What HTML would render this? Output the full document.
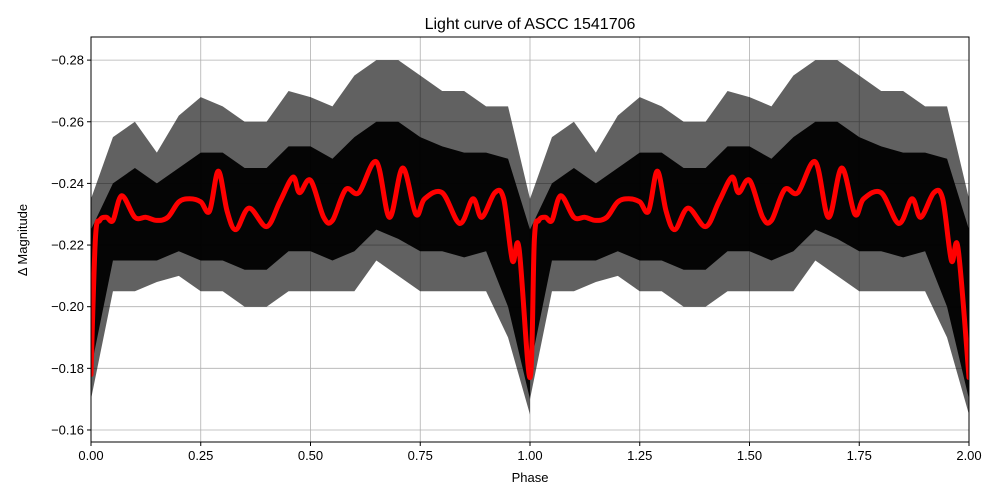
<!DOCTYPE html>
<html><head><meta charset="utf-8"><style>
body{margin:0;background:#fff;}
svg{display:block;font-family:"Liberation Sans","DejaVu Sans",sans-serif;}
</style></head><body>
<svg id="chart" width="1000" height="500" viewBox="0 0 1000 500"></svg>
<script>
const curvePhase = [0,0.01,0.02,0.035,0.05,0.07,0.1,0.125,0.15,0.175,0.2,0.225,0.25,0.27,0.29,0.31,0.33,0.36,0.4,0.43,0.46,0.475,0.5,0.53,0.55,0.58,0.61,0.65,0.68,0.71,0.74,0.76,0.8,0.84,0.87,0.89,0.92,0.94,0.96,0.975,1.0];
const curveMag = [-0.178,-0.222,-0.228,-0.229,-0.228,-0.236,-0.229,-0.229,-0.228,-0.229,-0.234,-0.235,-0.234,-0.231,-0.244,-0.231,-0.225,-0.232,-0.226,-0.234,-0.242,-0.237,-0.241,-0.229,-0.228,-0.238,-0.237,-0.247,-0.229,-0.245,-0.230,-0.235,-0.237,-0.227,-0.235,-0.229,-0.237,-0.235,-0.215,-0.219,-0.177];
const bandPhase = [0,0.05,0.1,0.15,0.2,0.25,0.3,0.35,0.4,0.45,0.5,0.55,0.6,0.65,0.7,0.75,0.8,0.85,0.9,0.95,1.0];
const bandUpper = [-0.235,-0.255,-0.26,-0.25,-0.262,-0.268,-0.265,-0.26,-0.26,-0.27,-0.268,-0.265,-0.275,-0.28,-0.28,-0.275,-0.27,-0.27,-0.265,-0.265,-0.235];
const bandLower = [-0.17,-0.205,-0.205,-0.208,-0.21,-0.205,-0.205,-0.2,-0.2,-0.205,-0.205,-0.205,-0.205,-0.215,-0.21,-0.205,-0.205,-0.205,-0.205,-0.19,-0.165];
const innerUpper = [-0.225,-0.24,-0.245,-0.24,-0.245,-0.25,-0.25,-0.245,-0.245,-0.252,-0.252,-0.248,-0.255,-0.26,-0.26,-0.255,-0.252,-0.25,-0.25,-0.248,-0.225];
const innerLower = [-0.18,-0.215,-0.215,-0.215,-0.218,-0.215,-0.215,-0.212,-0.212,-0.218,-0.218,-0.215,-0.218,-0.225,-0.222,-0.218,-0.218,-0.216,-0.218,-0.2,-0.17];
const xTicks = [0,0.25,0.5,0.75,1.0,1.25,1.5,1.75,2.0];
const xTickLabels = ["0.00","0.25","0.50","0.75","1.00","1.25","1.50","1.75","2.00"];
const yTicks = [-0.28,-0.26,-0.24,-0.22,-0.20,-0.18,-0.16];
const yTickLabels = ["\u22120.28","\u22120.26","\u22120.24","\u22120.22","\u22120.20","\u22120.18","\u22120.16"];

const L=91,R=969,T=37,B=442;
const yTopVal=-0.2875, yBotVal=-0.1561;
function X(p){return L+(p-0)/(2-0)*(R-L);}
function Y(m){return T+(m-yTopVal)/(yBotVal-yTopVal)*(B-T);}
const NS="http://www.w3.org/2000/svg";
const svg=document.getElementById('chart');
function mk(tag,attrs,parent){const e=document.createElementNS(NS,tag);for(const k in attrs)e.setAttribute(k,attrs[k]);(parent||svg).appendChild(e);return e;}

const grid=mk('g',{});


xTicks.forEach(t=>{mk('line',{x1:X(t),x2:X(t),y1:T,y2:B,stroke:'#b0b0b0','stroke-width':0.8},grid);});
yTicks.forEach(t=>{mk('line',{x1:L,x2:R,y1:Y(t),y2:Y(t),stroke:'#b0b0b0','stroke-width':0.8},grid);});

const defs=mk('defs',{});
const cp=mk('clipPath',{id:'clip'},defs);
mk('rect',{x:L,y:T,width:R-L,height:B-T},cp);

const data=mk('g',{'clip-path':'url(#clip)'});


function band(up,low,op,name){
  for(let c=0;c<2;c++){
    let pts=[];
    bandPhase.forEach((p,i)=>pts.push(X(p+c)+','+Y(up[i])));
    for(let i=bandPhase.length-1;i>=0;i--)pts.push(X(bandPhase[i]+c)+','+Y(low[i]));
    const poly=mk('polygon',{points:pts.join(' '),fill:'#000','fill-opacity':op},data);
    
    
  }
}
band(bandUpper,bandLower,0.62,'scatter-outer-band');
band(innerUpper,innerLower,0.95,'scatter-inner-band');

// smooth model curve (Catmull-Rom)
let P=[];
for(let c=0;c<2;c++){curvePhase.forEach((p,i)=>{if(c===1&&i===0)return;P.push([X(p+c),Y(curveMag[i])]);});}
let d='M'+P[0][0].toFixed(1)+','+P[0][1].toFixed(1);
for(let i=0;i<P.length-1;i++){
  const p0=P[Math.max(i-1,0)],p1=P[i],p2=P[i+1],p3=P[Math.min(i+2,P.length-1)];
  const c1=[p1[0]+(p2[0]-p0[0])/6,p1[1]+(p2[1]-p0[1])/6];
  const c2=[p2[0]-(p3[0]-p1[0])/6,p2[1]-(p3[1]-p1[1])/6];
  d+=' C'+c1[0].toFixed(1)+','+c1[1].toFixed(1)+' '+c2[0].toFixed(1)+','+c2[1].toFixed(1)+' '+p2[0].toFixed(1)+','+p2[1].toFixed(1);
}
const curve=mk('path',{d:d,fill:'none',stroke:'#ff0000','stroke-width':5,'stroke-linejoin':'round','stroke-linecap':'round'},data);



const frame=mk('rect',{x:L,y:T,width:R-L,height:B-T,fill:'none',stroke:'#000','stroke-width':1});



const xa=mk('g',{});


xTicks.forEach((t,i)=>{
  mk('line',{x1:X(t),x2:X(t),y1:B,y2:B+4,stroke:'#000'},xa);
  const tx=mk('text',{x:X(t),y:B+18,'font-size':13,'text-anchor':'middle'},xa);tx.textContent=xTickLabels[i];
});
const ya=mk('g',{});


yTicks.forEach((t,i)=>{
  mk('line',{x1:L-4,x2:L,y1:Y(t),y2:Y(t),stroke:'#000'},ya);
  const tx=mk('text',{x:L-7,y:Y(t)+4.5,'font-size':13,'text-anchor':'end'},ya);tx.textContent=yTickLabels[i];
});
const title=mk('text',{x:530,y:29,'font-size':16,'text-anchor':'middle'});
title.textContent='Light curve of ASCC 1541706';


const xl=mk('text',{x:530,y:482,'font-size':13,'text-anchor':'middle'});
xl.textContent='Phase';


const yl=mk('text',{x:27,y:240,'font-size':13,'text-anchor':'middle',transform:'rotate(-90 27 240)'});
yl.textContent='\u0394 Magnitude';


</script>
</body></html>
